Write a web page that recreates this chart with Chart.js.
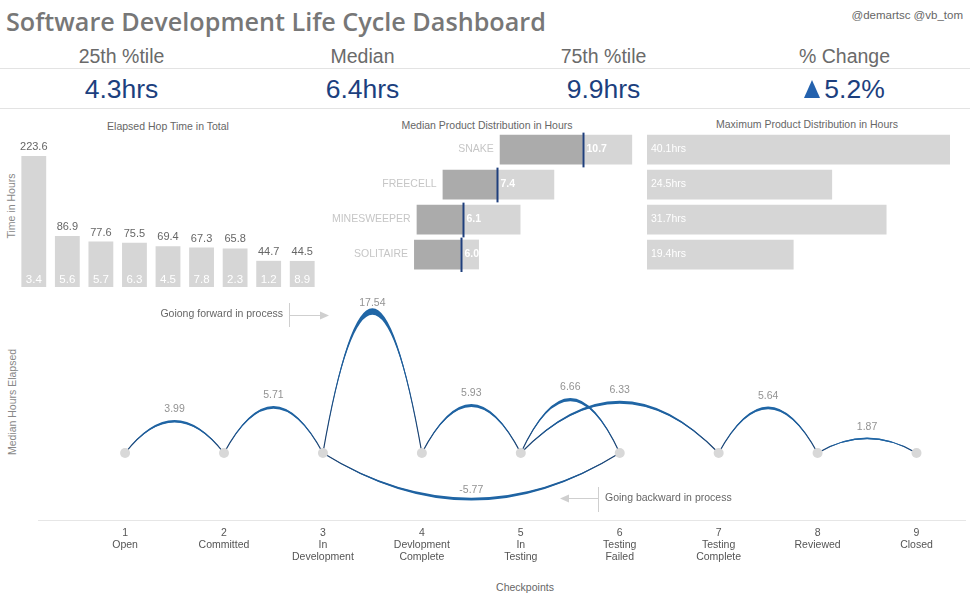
<!DOCTYPE html>
<html>
<head>
<meta charset="utf-8">
<title>Software Development Life Cycle Dashboard</title>
<script src="https://cdn.jsdelivr.net/npm/chart.js@4.4.0/dist/chart.umd.min.js"></script>
<style>
  body { margin: 0; width: 970px; height: 600px; position: relative; overflow: hidden; background: #fff;
         font-family: "Liberation Sans", Arial, sans-serif; }
  .abs { position: absolute; white-space: nowrap; }
  .ctr { transform: translate(-50%, -50%); }
  .rot { transform: translate(-50%, -50%) rotate(-90deg); }
  #title { left: 6px; top: 9px; font: 600 25.2px/25px "Open Sans", sans-serif; color: #777; }
  #credit { right: 7px; top: 10px; font-size: 11.5px; line-height: 11.5px; color: #666; }
  .rule { position: absolute; left: 0; width: 970px; height: 1px; background: #e3e3e3; }
  .kpi-label { width: 241px; text-align: center; top: 47px; font-size: 19.5px; line-height: 19.5px; color: #6a6a6a; }
  .kpi-value { width: 241px; text-align: center; top: 76px; font-size: 26.5px; line-height: 26.5px; color: #1c3f7e; }
  .kpi-value .up { display: inline-block; width: 0; height: 0; margin-right: 4px;
                   border-left: 8.5px solid transparent; border-right: 8.5px solid transparent;
                   border-bottom: 18px solid #2361ad; }
  .sub { font-size: 10.5px; color: #666; }
  .axt { font-size: 10.5px; color: #888; }
  canvas { position: absolute; }
</style>
</head>
<body>
<div id="title" class="abs">Software Development Life Cycle Dashboard</div>
<div id="credit" class="abs">@demartsc @vb_tom</div>
<div class="rule" style="top:68px"></div>
<div class="rule" style="top:108px"></div>
<div id="kpis"></div>

<div class="abs ctr sub" style="left:168px; top:125.5px">Elapsed Hop Time in Total</div>
<div class="abs ctr sub" style="left:487px; top:124.5px">Median Product Distribution in Hours</div>
<div class="abs ctr sub" style="left:807px; top:123.5px">Maximum Product Distribution in Hours</div>
<div class="abs rot axt" style="left:10.5px; top:206px">Time in Hours</div>
<div class="abs rot axt" style="left:12px; top:402px">Median Hours Elapsed</div>
<div class="abs ctr sub" style="left:525px; top:587px">Checkpoints</div>

<canvas id="hopChart" width="302" height="157" style="left:17px; top:130px"></canvas>
<canvas id="medianChart" width="330" height="140" style="left:305px; top:132px"></canvas>
<canvas id="maxChart" width="317" height="140" style="left:647px; top:132px"></canvas>
<canvas id="arcChart" width="970" height="310" style="left:0; top:290px"></canvas>

<script>
// header numbers
const kpiLabels = ['25th %tile', 'Median', '75th %tile', '% Change'];
const kpiValues = ['4.3hrs', '6.4hrs', '9.9hrs', '5.2%'];

// elapsed hop time in total
const hopLabels = ['H1', 'H2', 'H3', 'H4', 'H5', 'H6', 'H7', 'H8', 'H9'];
const hopTotals = [223.6, 86.9, 77.6, 75.5, 69.4, 67.3, 65.8, 44.7, 44.5];
const hopInner = [3.4, 5.6, 5.7, 6.3, 4.5, 7.8, 2.3, 1.2, 8.9];

// product distributions
const products = ['SNAKE', 'FREECELL', 'MINESWEEPER', 'SOLITAIRE'];
const productLow = [7.5, 5.3, 4.3, 4.2];
const productMedian = [10.7, 7.4, 6.1, 6.0];
const productHigh = [12.6, 9.6, 8.3, 6.7];
const productMax = [40.1, 24.5, 31.7, 19.4];

// checkpoints and hops between them
const checkpoints = ['Open', 'Committed', 'In Development', 'Devlopment Complete', 'In Testing',
                     'Testing Failed', 'Testing Complete', 'Reviewed', 'Closed'];
const hopFrom = [1, 2, 3, 4, 5, 5, 7, 8, 3];
const hopTo = [2, 3, 4, 5, 6, 7, 8, 9, 6];
const hopHours = [3.99, 5.71, 17.54, 5.93, 6.66, 6.33, 5.64, 1.87, -5.77];

Chart.defaults.font.family = '"Liberation Sans", Arial, sans-serif';
Chart.defaults.animation = false;

// KPI strip
const kpiBox = document.getElementById('kpis');
kpiLabels.forEach((label, i) => {
  const left = 1 + i * 241;
  const l = document.createElement('div');
  l.className = 'abs kpi-label';
  l.style.left = left + 'px';
  l.textContent = label;
  kpiBox.appendChild(l);
  const v = document.createElement('div');
  v.className = 'abs kpi-value';
  v.style.left = left + 'px';
  if (label === '% Change') {
    v.innerHTML = '<span class="up"></span>' + kpiValues[i];
  } else {
    v.textContent = kpiValues[i];
  }
  kpiBox.appendChild(v);
});

const noChrome = { legend: { display: false }, tooltip: { enabled: false } };

// labels on the hop bars
const hopLabelPlugin = {
  id: 'hopLabels',
  afterDatasetsDraw(chart) {
    const ctx = chart.ctx;
    const bars = chart.getDatasetMeta(0).data;
    ctx.save();
    ctx.textAlign = 'center';
    ctx.textBaseline = 'middle';
    bars.forEach((bar, i) => {
      ctx.font = '11px "Liberation Sans", Arial, sans-serif';
      ctx.fillStyle = '#666';
      ctx.fillText(hopTotals[i].toFixed(1), bar.x, bar.y - 9);
      ctx.fillStyle = '#fff';
      ctx.font = '11.5px "Liberation Sans", Arial, sans-serif';
      ctx.fillText(hopInner[i].toFixed(1), bar.x, bar.base - 7);
    });
    ctx.restore();
  }
};

new Chart(document.getElementById('hopChart'), {
  type: 'bar',
  data: {
    labels: hopLabels,
    datasets: [{ data: hopTotals, backgroundColor: '#d6d6d6', barPercentage: 0.74, categoryPercentage: 1 }]
  },
  options: {
    responsive: false,
    layout: { padding: 0 },
    plugins: noChrome,
    scales: { x: { display: false }, y: { display: false, min: 0, max: 268 } }
  },
  plugins: [hopLabelPlugin]
});

// median line, product names and median values
const medianPlugin = {
  id: 'medianMarks',
  afterDatasetsDraw(chart) {
    const ctx = chart.ctx;
    const xs = chart.scales.x;
    const bars = chart.getDatasetMeta(0).data;
    ctx.save();
    ctx.textBaseline = 'middle';
    bars.forEach((bar, i) => {
      const half = bar.height / 2;
      const mx = Math.round(xs.getPixelForValue(productMedian[i])) + 0.5;
      ctx.strokeStyle = '#1f3f7c';
      ctx.lineWidth = 2;
      ctx.beginPath();
      ctx.moveTo(mx, bar.y - half - 2);
      ctx.lineTo(mx, bar.y + half + 3);
      ctx.stroke();
      ctx.font = '10.5px "Liberation Sans", Arial, sans-serif';
      ctx.fillStyle = '#c6c6c6';
      ctx.textAlign = 'right';
      ctx.fillText(products[i], xs.getPixelForValue(productLow[i]) - 6, bar.y);
      ctx.font = 'bold 10.5px "Liberation Sans", Arial, sans-serif';
      ctx.fillStyle = '#fff';
      ctx.textAlign = 'left';
      ctx.fillText(productMedian[i].toFixed(1), mx + 3, bar.y);
    });
    ctx.restore();
  }
};

new Chart(document.getElementById('medianChart'), {
  type: 'bar',
  data: {
    labels: products,
    datasets: [
      { data: products.map((p, i) => [productLow[i], productMedian[i]]), backgroundColor: '#ababab',
        grouped: false, barPercentage: 0.85, categoryPercentage: 1 },
      { data: products.map((p, i) => [productMedian[i], productHigh[i]]), backgroundColor: '#d6d6d6',
        grouped: false, barPercentage: 0.85, categoryPercentage: 1 }
    ]
  },
  options: {
    indexAxis: 'y',
    responsive: false,
    layout: { padding: 0 },
    plugins: noChrome,
    scales: { x: { display: false, min: 0, max: 12.71 }, y: { display: false } }
  },
  plugins: [medianPlugin]
});

const maxLabelPlugin = {
  id: 'maxLabels',
  afterDatasetsDraw(chart) {
    const ctx = chart.ctx;
    const x0 = chart.scales.x.getPixelForValue(0);
    ctx.save();
    ctx.font = '10.5px "Liberation Sans", Arial, sans-serif';
    ctx.fillStyle = '#fff';
    ctx.textBaseline = 'middle';
    chart.getDatasetMeta(0).data.forEach((bar, i) => {
      ctx.fillText(productMax[i].toFixed(1) + 'hrs', x0 + 4, bar.y);
    });
    ctx.restore();
  }
};

new Chart(document.getElementById('maxChart'), {
  type: 'bar',
  data: {
    labels: products,
    datasets: [{ data: productMax, backgroundColor: '#d6d6d6', barPercentage: 0.85, categoryPercentage: 1 }]
  },
  options: {
    indexAxis: 'y',
    responsive: false,
    layout: { padding: 0 },
    plugins: noChrome,
    scales: { x: { display: false, min: 0, max: 41.95 }, y: { display: false } }
  },
  plugins: [maxLabelPlugin]
});

// arcs between checkpoints: height = median hours, drawn as a tapered band
const arcPlugin = {
  id: 'hopArcs',
  beforeDatasetsDraw(chart) {
    const ctx = chart.ctx;
    const xs = chart.scales.x, ys = chart.scales.y;
    const y0 = ys.getPixelForValue(0);
    ctx.save();
    hopHours.forEach((h, i) => {
      const x1 = xs.getPixelForValue(hopFrom[i]);
      const x2 = xs.getPixelForValue(hopTo[i]);
      const mx = (x1 + x2) / 2;
      const dy = ys.getPixelForValue(h) - y0;
      const thick = 1.2 + Math.abs(h) * 0.3;
      const inner = dy - Math.sign(dy) * thick;
      const grad = ctx.createLinearGradient(0, y0, 0, y0 + dy);
      grad.addColorStop(0, '#1a3c68');
      grad.addColorStop(0.55, '#1d5b98');
      grad.addColorStop(1, '#2067a7');
      ctx.fillStyle = grad;
      ctx.beginPath();
      ctx.moveTo(x1, y0);
      ctx.quadraticCurveTo(mx, y0 + 2 * dy, x2, y0);
      ctx.quadraticCurveTo(mx, y0 + 2 * inner, x1, y0);
      ctx.closePath();
      ctx.fill();
      ctx.strokeStyle = grad;
      ctx.lineWidth = 1.2;
      ctx.beginPath();
      ctx.moveTo(x1, y0);
      ctx.quadraticCurveTo(mx, y0 + dy * 2 - Math.sign(dy) * thick, x2, y0);
      ctx.stroke();
    });
    ctx.restore();
  },
  afterDatasetsDraw(chart) {
    const ctx = chart.ctx;
    const xs = chart.scales.x, ys = chart.scales.y;
    ctx.save();
    ctx.font = '10.5px "Liberation Sans", Arial, sans-serif';
    ctx.fillStyle = '#939393';
    ctx.textAlign = 'center';
    ctx.textBaseline = 'middle';
    hopHours.forEach((h, i) => {
      const mx = (xs.getPixelForValue(hopFrom[i]) + xs.getPixelForValue(hopTo[i])) / 2;
      const y = Math.max(ys.getPixelForValue(h) - 10.5, chart.chartArea.top + 8);
      ctx.fillText(h.toFixed(2), mx, y);
    });
    ctx.restore();
  },
  afterDraw(chart) {
    // direction notes
    const ctx = chart.ctx;
    ctx.save();
    ctx.strokeStyle = '#cfcfcf';
    ctx.fillStyle = '#cfcfcf';
    ctx.lineWidth = 1;
    ctx.beginPath();
    ctx.moveTo(289.5, 13); ctx.lineTo(289.5, 37);
    ctx.moveTo(289.5, 25.5); ctx.lineTo(322, 25.5);
    ctx.moveTo(598.5, 197); ctx.lineTo(598.5, 222);
    ctx.moveTo(598.5, 208.5); ctx.lineTo(567, 208.5);
    ctx.stroke();
    ctx.beginPath();
    ctx.moveTo(329, 25.5); ctx.lineTo(320, 21.5); ctx.lineTo(320, 29.5); ctx.closePath();
    ctx.moveTo(560, 208.5); ctx.lineTo(569, 204.5); ctx.lineTo(569, 212.5); ctx.closePath();
    ctx.fill();
    ctx.font = '10.5px "Liberation Sans", Arial, sans-serif';
    ctx.fillStyle = '#666';
    ctx.textBaseline = 'middle';
    ctx.textAlign = 'right';
    ctx.fillText('Goiong forward in process', 283, 24.5);
    ctx.textAlign = 'left';
    ctx.fillText('Going backward in process', 605, 208);
    ctx.restore();
  }
};

new Chart(document.getElementById('arcChart'), {
  type: 'scatter',
  data: {
    datasets: [{
      data: checkpoints.map((c, i) => ({ x: i + 1, y: 0 })),
      pointRadius: 5, pointHoverRadius: 5, backgroundColor: '#d8d8d8', borderWidth: 0
    }]
  },
  options: {
    responsive: false,
    layout: { padding: { top: 5, right: 5, left: 38, bottom: 0 } },
    plugins: noChrome,
    scales: {
      x: {
        type: 'linear', min: 0.12, max: 9.49,
        grid: { display: false, drawTicks: false },
        border: { display: true, color: '#e6e6e6' },
        afterFit: s => { s.height = 80; },
        afterBuildTicks: s => { s.ticks = checkpoints.map((c, i) => ({ value: i + 1 })); },
        ticks: {
          padding: 7, color: '#555', maxRotation: 0, autoSkip: false,
          font: { size: 10.5, lineHeight: 1.15 },
          callback: v => [String(v)].concat(checkpoints[v - 1].split(' '))
        }
      },
      y: { display: false, min: -8.12, max: 19.15 }
    }
  },
  plugins: [arcPlugin]
});
</script>
</body>
</html>
